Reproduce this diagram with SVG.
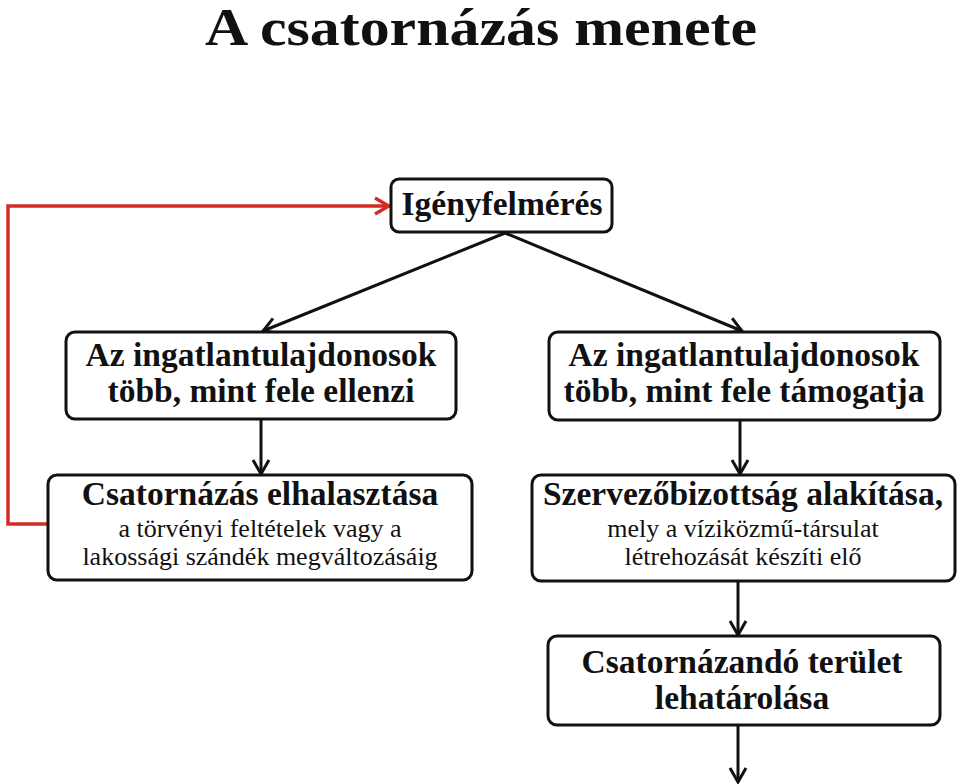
<svg xmlns="http://www.w3.org/2000/svg" width="960" height="784" viewBox="0 0 960 784">
<style>
.box{fill:#fff;stroke:#111;stroke-width:3}
.b{font-family:"Liberation Serif","Times New Roman",serif;font-weight:bold;fill:#111;text-anchor:middle;font-size:33.5px}
.r{font-family:"Liberation Serif","Times New Roman",serif;fill:#111;text-anchor:middle;font-size:26px}
.c{fill:none;stroke:#111;stroke-width:3}
.red{fill:none;stroke:#d42b27;stroke-width:3.5}
</style>
<defs>
<marker id="ah" viewBox="0 0 20 20" refX="18" refY="10" markerWidth="20" markerHeight="20" markerUnits="userSpaceOnUse" orient="auto">
<path d="M4,2 L18,10 L4,18" fill="none" stroke="#111" stroke-width="3"/>
</marker>
<marker id="ahr" viewBox="0 0 20 20" refX="18" refY="10" markerWidth="20" markerHeight="20" markerUnits="userSpaceOnUse" orient="auto">
<path d="M4,2 L18,10 L4,18" fill="none" stroke="#d42b27" stroke-width="3.5"/>
</marker>
</defs>
<rect width="960" height="784" fill="#fff"/>
<text x="481" y="45" class="b" style="font-size:52px" textLength="552" lengthAdjust="spacingAndGlyphs">A csatornázás menete</text>
<g id="connectors">
<path class="c" d="M505,233 L263,331" marker-end="url(#ah)"/>
<path class="c" d="M505,233 L742,331" marker-end="url(#ah)"/>
<path class="c" d="M261,420 L261,474" marker-end="url(#ah)"/>
<path class="c" d="M740,420 L740,474" marker-end="url(#ah)"/>
<path class="c" d="M738,581 L738,635" marker-end="url(#ah)"/>
<path class="c" d="M738,725 L738,782" marker-end="url(#ah)"/>
<path class="red" d="M48,524 L8,524 L8,206 L389,206" marker-end="url(#ahr)"/>
</g>
<g id="n1">
<rect class="box" x="391" y="179" width="221" height="53" rx="8"/>
<text x="502" y="215" class="b">Igényfelmérés</text>
</g>
<g id="n2">
<rect class="box" x="66" y="332" width="390" height="87" rx="9"/>
<text x="261" y="366" class="b">Az ingatlantulajdonosok</text>
<text x="261" y="402" class="b">több, mint fele ellenzi</text>
</g>
<g id="n3">
<rect class="box" x="549" y="332" width="391" height="88" rx="9"/>
<text x="744" y="366" class="b">Az ingatlantulajdonosok</text>
<text x="744" y="402" class="b">több, mint fele támogatja</text>
</g>
<g id="n4">
<rect class="box" x="48" y="475" width="424" height="105" rx="9"/>
<text x="260" y="505" class="b">Csatornázás elhalasztása</text>
<text x="260" y="537" class="r">a törvényi feltételek vagy a</text>
<text x="260" y="565" class="r">lakossági szándék megváltozásáig</text>
</g>
<g id="n5">
<rect class="box" x="532" y="475" width="423" height="106" rx="9"/>
<text x="743" y="505" class="b">Szervezőbizottság alakítása,</text>
<text x="743" y="537" class="r">mely a víziközmű-társulat</text>
<text x="743" y="565" class="r">létrehozását készíti elő</text>
</g>
<g id="n6">
<rect class="box" x="548" y="636" width="392" height="89" rx="9"/>
<text x="742" y="673" class="b">Csatornázandó terület</text>
<text x="742" y="709" class="b">lehatárolása</text>
</g>
</svg>
